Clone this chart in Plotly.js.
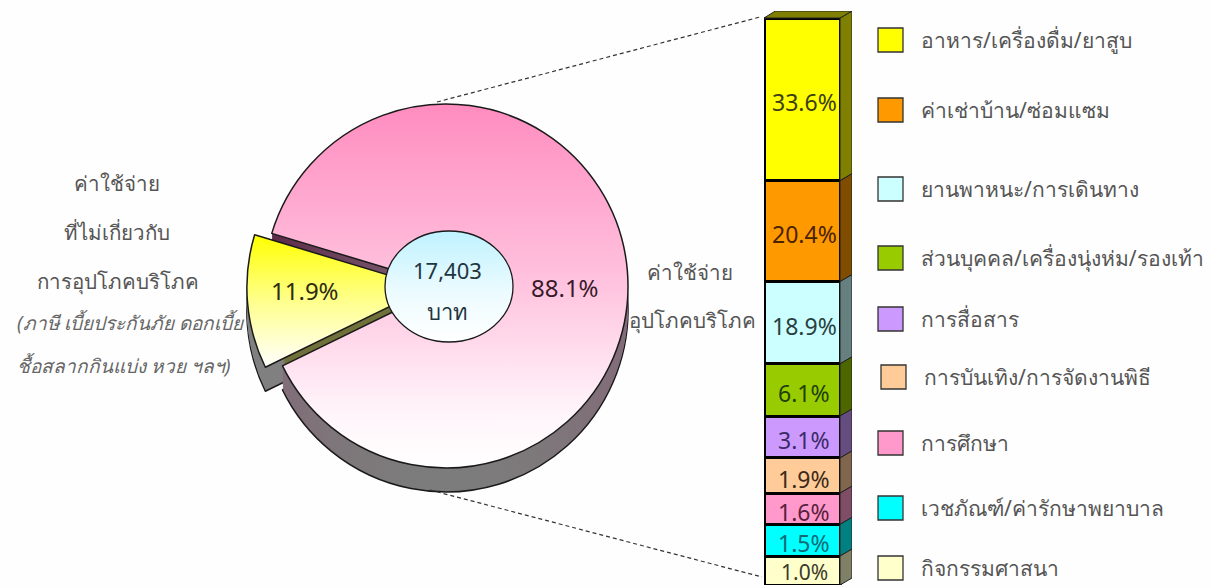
<!DOCTYPE html>
<html><head><meta charset="utf-8">
<script src="https://cdn.plot.ly/plotly-3.0.1.min.js"></script>
<style>html,body{margin:0;padding:0;background:#fff}#c{width:1211px;height:588px}</style>
</head><body><div id="c"></div>
<script>
// ---- data ----
const pieLabels = ['ค่าใช้จ่ายอุปโภคบริโภค', 'ค่าใช้จ่ายที่ไม่เกี่ยวกับการอุปโภคบริโภค'];
const pieShares = [88.1, 11.9];
const totalText = ['17,403', 'บาท'];
const categories = ['อาหาร/เครื่องดื่ม/ยาสูบ','ค่าเช่าบ้าน/ซ่อมแซม','ยานพาหนะ/การเดินทาง','ส่วนบุคคล/เครื่องนุ่งห่ม/รองเท้า','การสื่อสาร','การบันเทิง/การจัดงานพิธี','การศึกษา','เวชภัณฑ์/ค่ารักษาพยาบาล','กิจกรรมศาสนา'];
const shareLabels = [33.6, 20.4, 18.9, 6.1, 3.1, 1.9, 1.6, 1.5, 1.0];
// the reference's column is not drawn to scale: this is each block's visible share of the column height
const visibleShare = [28.7, 17.8, 14.5, 9.2, 7.4, 6.2, 5.5, 5.6, 5.1];
const frontColors = ['#ffff00','#ff9900','#ccffff','#99cc00','#cc99ff','#ffcc99','#ff99cc','#00ffff','#ffffcc'];
const sideColors  = ['#808000','#804c00','#668080','#4d6600','#664d80','#80664d','#804d66','#008080','#808066'];
const textColors  = ['#3d3d10','#4a2200','#2a4040','#20400a','#3d2a66','#3d2a1a','#5a1f3d','#0f6a78','#3a3a2a'];
// ---- layout constants ----
const W = 1211, H = 588, FONT = '"Noto Sans","DejaVu Sans",sans-serif';
const legendY = [40,110,189,258,319,377,443,508,568];
const legendX = [878,878,878,878,878,881,878,878,878];
const fx = p => p / W, fy = p => 1 - p / H;

// ---- pie with an extruded look ----
const cx = 446, cy = 286, radius = 182, pull = 0.0944, depth = 24, step = 2, rotation = 286.8;
const half = radius * (1 + pull);
function pie(offset, isTop) {
  return {type:'pie', values:pieShares, labels:pieLabels, sort:false, direction:'clockwise', rotation,
    pull:[0,pull], textinfo:'none', hoverinfo:'skip', showlegend:false,
    domain:{x:[fx(cx-half),fx(cx+half)], y:[fy(cy+offset+half),fy(cy+offset-half)]},
    marker:{colors:isTop?['#ff8fc0','#ffff00']:['#807078','#808080'],
      line:{color:isTop||offset===depth?'#1a1a1a':'rgba(0,0,0,0)',width:isTop||offset===depth?1.5:0}}};
}
const traces = [];
for (let o = depth; o >= step; o -= step) traces.push(pie(o,false));
traces.push(pie(0,true));

// ---- stacked column with side faces, computed from the values ----
const colL = 764, colR = 840, colTop = 18, colBottom = 585, sideW = 12, sideH = 7;
const unitY = (colBottom - colTop) / 100, dx = sideW / (colR - colL), dy = sideH / unitY;
const annotations = [];
let run = 0;
categories.forEach((c,i) => {
  const a = run, b = run + visibleShare[i]; run = b;
  const last = i === categories.length - 1;
  traces.push({type:'scatter', mode:'lines', x:[1,1+dx,1+dx,1,1], y:[a,a-dy,b-dy,b,a], fill:'toself',
    fillcolor:sideColors[i], line:{color:'#222',width:1}, hoverinfo:'skip', showlegend:false, xaxis:'x', yaxis:'y'});
  annotations.push({xref:'x',yref:'y',x:0.53,y:(a+b)/2,yshift:last?-1:-3,text:shareLabels[i].toFixed(1)+'%',showarrow:false,
    xanchor:'center',yanchor:'middle',font:{family:FONT,size:last?21:23,color:textColors[i]}});
});
traces.push({type:'scatter', mode:'lines', x:[0,0.15,1+dx,1,0], y:[0,-dy,-dy,0,0], fill:'toself',
  fillcolor:sideColors[0], line:{color:'#222',width:1}, hoverinfo:'skip', showlegend:false, xaxis:'x', yaxis:'y'});
categories.forEach((c,i) => {
  traces.push({type:'bar', name:c, x:[0.5], y:[visibleShare[i]], width:1, xaxis:'x', yaxis:'y',
    marker:{color:frontColors[i], line:{color:'#000',width:3}},
    cliponaxis:false, hoverinfo:'skip', showlegend:false});
});

// ---- shapes and text ----
const shapes = [
  {type:'circle',xref:'paper',yref:'paper',x0:fx(385),x1:fx(513),y0:fy(342),y1:fy(231),fillcolor:'#c8f4ff',line:{color:'#1a1a1a',width:1.3},layer:'above'},
  {type:'line',xref:'paper',yref:'paper',x0:fx(437),y0:fy(102),x1:fx(760),y1:fy(17),line:{color:'#333',width:1.2,dash:'4px,3px'}},
  {type:'line',xref:'paper',yref:'paper',x0:fx(430),y0:fy(490),x1:fx(762),y1:fy(577),line:{color:'#333',width:1.2,dash:'4px,3px'}}
];
const txt = (text,x,y,size,color,anchor,italic) => annotations.push({xref:'paper',yref:'paper',x:fx(x),y:fy(y),text:italic?'<i>'+text+'</i>':text,
  showarrow:false,xanchor:anchor||'center',yanchor:'middle',font:{family:FONT,size,color}});
categories.forEach((c,i) => {
  shapes.push({type:'rect',xref:'paper',yref:'paper',x0:fx(legendX[i]),x1:fx(legendX[i]+25),y0:fy(legendY[i]+12),y1:fy(legendY[i]-12),
    fillcolor:frontColors[i],line:{color:'#333',width:1.3}});
  txt(c,legendX[i]+41,legendY[i],21,'#555','left');
});
txt(pieShares[1].toFixed(1)+'%',305,290,24,'#2d2d10');
txt(pieShares[0].toFixed(1)+'%',565,287,24,'#3a1a2a');
txt(totalText[0],447,270,22,'#1f3540');
txt(totalText[1],447,311,22,'#1f3540');
txt('ค่าใช้จ่าย',117,183,20.5,'#555');
txt('ที่ไม่เกี่ยวกับ',117,232,20.5,'#555');
txt('การอุปโภคบริโภค',118,281,20.5,'#555');
txt('(ภาษี เบี้ยประกันภัย ดอกเบี้ย',15,322,19,'#666','left',true);
txt('ชื้อสลากกินแบ่ง หวย ฯลฯ)',15,365,19,'#666','left',true);
txt('ค่าใช้จ่าย',690,272,20.5,'#555');
txt('อุปโภคบริโภค',692,320,20.5,'#555');

const layout = {width:W,height:H,margin:{l:0,r:0,t:0,b:0},paper_bgcolor:'#fefefe',plot_bgcolor:'rgba(0,0,0,0)',
  showlegend:false,barmode:'stack',shapes,annotations,
  xaxis:{domain:[fx(colL),fx(colR+sideW)],range:[0,1+dx],visible:false,fixedrange:true},
  yaxis:{domain:[fy(colBottom),fy(colTop-sideH)],range:[100,-dy],visible:false,fixedrange:true}};

Plotly.newPlot('c',traces,layout,{displayModeBar:false,staticPlot:true}).then(gd => {
  const svg = gd.querySelector('.main-svg');
  const NS = 'http://www.w3.org/2000/svg';
  const defs = svg.querySelector('defs') || svg.insertBefore(document.createElementNS(NS,'defs'),svg.firstChild);
  const grad = (id,stops,horizontal) => {
    const g = document.createElementNS(NS,'linearGradient');
    g.setAttribute('id',id); g.setAttribute('x1','0'); g.setAttribute('y1','0');
    g.setAttribute('x2',horizontal?'1':'0'); g.setAttribute('y2',horizontal?'0':'1');
    stops.forEach(([o,c]) => { const s = document.createElementNS(NS,'stop'); s.setAttribute('offset',o); s.setAttribute('stop-color',c); g.appendChild(s); });
    defs.appendChild(g);
  };
  grad('pinkTop',[[0,'#ff8cbf'],[0.5,'#ffc4df'],[0.85,'#fff5fa'],[1,'#ffffff']]);
  grad('yellowTop',[[0,'#ffff00'],[0.45,'#ffff80'],[1,'#ffffff']]);
  grad('pinkWall',[[0,'#4e2040'],[0.35,'#5a2a48'],[0.5,'#84687a'],[0.8,'#807078'],[1,'#7c7c7c']]);
  grad('yellowWall',[[0,'#808080'],[0.2,'#808080'],[0.21,'#70703a'],[1,'#70703a']],true);
  grad('hole',[[0,'#bff2ff'],[0.55,'#ecfbff'],[1,'#ffffff']]);
  const pies = gd.querySelectorAll('.pielayer .trace');
  pies.forEach((t,i) => {
    const top = i === pies.length-1;
    const paths = t.querySelectorAll('.slice path.surface');
    paths[0].style.fill = top ? 'url(#pinkTop)' : 'url(#pinkWall)';
    paths[1].style.fill = top ? 'url(#yellowTop)' : 'url(#yellowWall)';
  });
  const hole = gd.querySelector('.layer-above .shapelayer path');
  if (hole) hole.style.fill = 'url(#hole)';
});
</script></body></html>
